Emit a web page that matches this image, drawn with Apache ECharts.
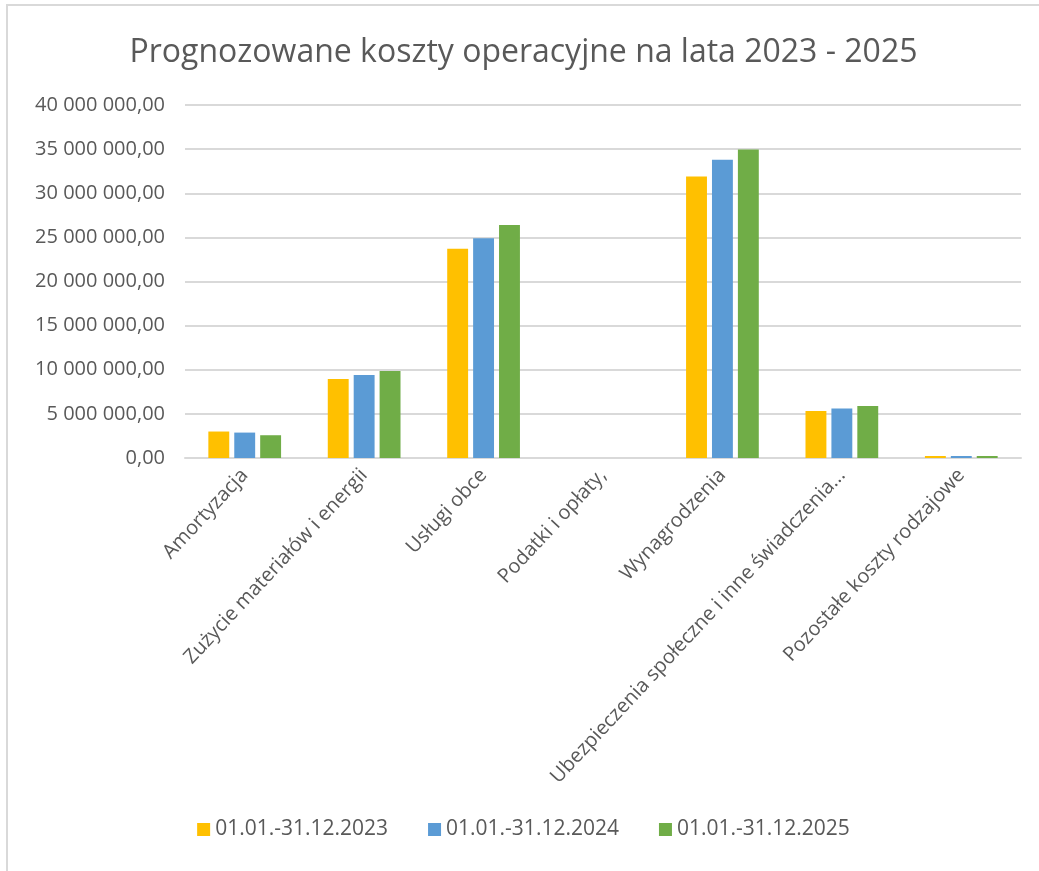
<!DOCTYPE html>
<html lang="pl">
<head>
    <meta charset="utf-8">
    <script src="https://cdn.jsdelivr.net/npm/echarts@6/dist/echarts.min.js"></script>
    <style>
        html,body{margin:0;padding:0;background:#fff;overflow:hidden;}
        #main{position:absolute;left:6px;top:4px;width:1031px;height:865px;
            border-left:2px solid #d9d9d9;border-top:2px solid #d9d9d9;}
    </style>
</head>
<body>
<div id="main"></div>
<script>
    // dane
    var kategorie = ['Amortyzacja', 'Zużycie materiałów i energii', 'Usługi obce', 'Podatki i opłaty,',
        'Wynagrodzenia', 'Ubezpieczenia społeczne i inne świadczenia na rzecz pracowników', 'Pozostałe koszty rodzajowe'];
    var okresy = ['01.01.-31.12.2023', '01.01.-31.12.2024', '01.01.-31.12.2025'];
    var koszty2023 = [3000000, 8950000, 23700000, 0, 31900000, 5330000, 230000];
    var koszty2024 = [2880000, 9400000, 24900000, 0, 33800000, 5600000, 230000];
    var koszty2025 = [2580000, 9850000, 26400000, 0, 34950000, 5900000, 230000];
    var kolory = ['#ffc000', '#5b9bd5', '#70ad47'];

    function formatPL(v){
        var s = Math.round(v).toString().replace(/\B(?=(\d{3})+(?!\d))/g, ' ');
        return s + ',00';
    }
    // długie etykiety skracane jak w Excelu
    function skroc(t){
        return t.length > 45 ? t.slice(0, 42) + '...' : t;
    }

    var myChart = echarts.init(document.getElementById('main'));
    var dane = [koszty2023, koszty2024, koszty2025];
    var series = okresy.map(function(nazwa, i){
        return {
            name: nazwa,
            type: 'bar',
            data: dane[i],
            barWidth: '17.5%',
            barGap: '24%',
            itemStyle: {color: kolory[i]}
        };
    });

    myChart.setOption({
        textStyle: {fontFamily: 'Open Sans'},
        title: {
            text: 'Prognozowane koszty operacyjne na lata 2023 - 2025',
            left: 'center',
            top: 26,
            textStyle: {fontSize: 32, fontWeight: 'normal', color: '#595959', fontFamily: 'Open Sans'}
        },
        legend: {
            bottom: 26,
            itemWidth: 13,
            itemHeight: 13,
            itemGap: 40,
            icon: 'rect',
            textStyle: {fontSize: 21, color: '#595959'},
            data: okresy
        },
        grid: {left: 177, right: 18, top: 99, bottom: 413},
        xAxis: {
            type: 'category',
            data: kategorie,
            axisLine: {lineStyle: {color: '#d9d9d9', width: 2}},
            axisTick: {show: false},
            axisLabel: {
                rotate: 47,
                fontSize: 20,
                color: '#595959',
                interval: 0,
                margin: 14,
                formatter: skroc
            }
        },
        yAxis: {
            type: 'value',
            min: 0,
            max: 40000000,
            interval: 5000000,
            axisLine: {show: false},
            axisTick: {show: false},
            splitLine: {lineStyle: {color: '#d9d9d9', width: 2}},
            axisLabel: {fontSize: 20, color: '#595959', margin: 20, formatter: formatPL}
        },
        series: series
    });
</script>
</body>
</html>
